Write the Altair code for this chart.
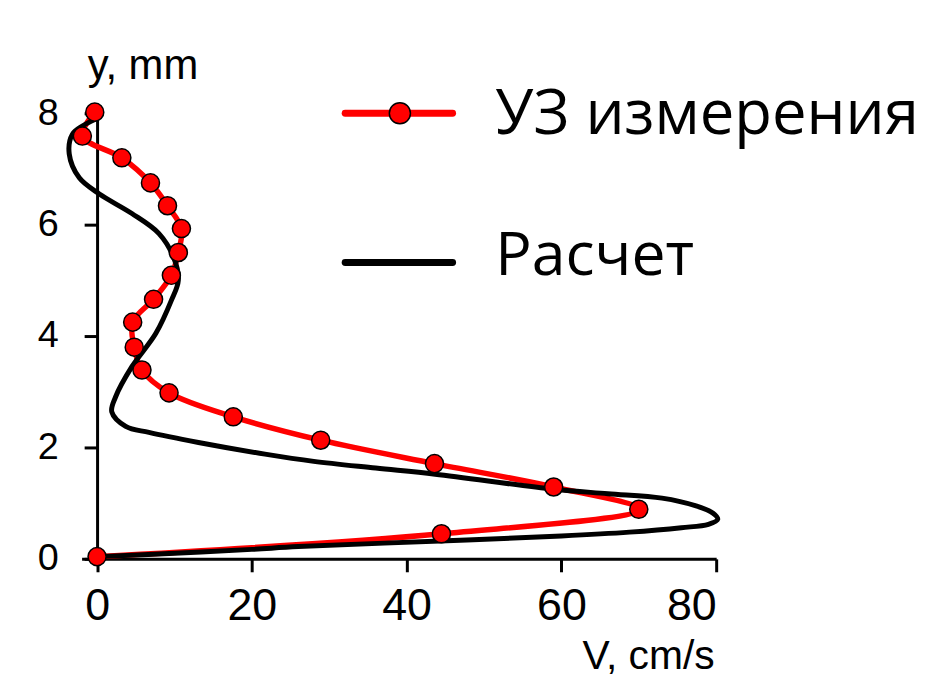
import altair as alt
import pandas as pd

# Measured (ultrasound) profile: V (cm/s), y (mm)
meas_v = [0.0, 44.5, 70.0, 59.0, 43.6, 28.9, 17.6, 9.3, 5.8, 4.8, 4.6, 7.3, 9.6, 10.5, 10.9, 9.1, 6.9, 3.2, -1.9, -0.3]
meas_y = [0.04, 0.45, 0.89, 1.29, 1.71, 2.13, 2.55, 2.98, 3.39, 3.80, 4.25, 4.66, 5.09, 5.50, 5.93, 6.34, 6.75, 7.20, 7.59, 8.02]

# Calculated profile
calc_v = [0.0, 10.0, 20.0, 26.0, 44.3, 60.0, 68.8, 75.5, 79.0, 80.2, 79.6, 77.4, 73.0, 66.0, 59.0, 43.7,
          36.0, 28.0, 21.7, 13.1, 6.7, 3.7, 1.9, 2.4, 4.5, 7.6, 9.6, 10.5, 9.9, 8.0, 4.5, 0.3, -2.3, -3.6, -3.2, -1.9, -0.1]
calc_y = [0.04, 0.10, 0.17, 0.22, 0.32, 0.41, 0.48, 0.56, 0.62, 0.71, 0.82, 0.95, 1.09, 1.17, 1.25, 1.52,
          1.63, 1.75, 1.88, 2.09, 2.27, 2.38, 2.64, 2.91, 3.45, 4.05, 4.64, 5.00, 5.41, 5.84, 6.20, 6.55, 6.84, 7.27, 7.62, 7.77, 7.90]

x_ticks = [0, 20, 40, 60, 80]
y_ticks = [0, 2, 4, 6, 8]
legend_labels = ["УЗ измерения", "Расчет"]

W, H = 638, 448
X_MIN, X_MAX = -2, 80
px_per_v = W / (X_MAX - X_MIN)

meas = pd.DataFrame({"V": meas_v, "y": meas_y, "i": list(range(len(meas_v)))})
calc = pd.DataFrame({"V": calc_v, "y": calc_y, "i": list(range(len(calc_v)))})

AXIS_FONT = "Liberation Sans"
LEG_FONT = "Open Sans"

xscale = alt.Scale(domain=[X_MIN, X_MAX], nice=False, zero=False)
yscale = alt.Scale(domain=[0, 8], nice=False, zero=False)

xaxis = alt.Axis(
    values=x_ticks, format="d", title="V, cm/s", grid=False,
    domainColor="black", domainWidth=3, tickColor="black", tickWidth=3, tickSize=13,
    labelFont=AXIS_FONT, labelFontSize=45, labelColor="black", labelPadding=12,
    titleFont=AXIS_FONT, titleFontSize=41, titleFontWeight="normal", titleColor="black",
    titleAlign="right", titleX=636, titleY=110, titleBaseline="alphabetic",
)
yaxis = alt.Axis(
    values=y_ticks, format="d", title="y, mm", grid=False, offset=-(0 - X_MIN) * px_per_v,
    domainColor="black", domainWidth=3, tickColor="black", tickWidth=3, tickSize=13,
    labelFont=AXIS_FONT, labelFontSize=38, labelColor="black", labelPadding=26,
    titleFont=AXIS_FONT, titleFontSize=42, titleFontWeight="normal", titleColor="black",
    titleAngle=0, titleAlign="left", titleX=-10, titleY=-35, titleBaseline="alphabetic",
)

red_line = alt.Chart(meas).mark_line(
    color="#ff0000", strokeWidth=5.5, interpolate="catmull-rom"
).encode(
    x=alt.X("V:Q", scale=xscale, axis=xaxis),
    y=alt.Y("y:Q", scale=yscale, axis=yaxis),
    order="i:O",
)

black_line = alt.Chart(calc).mark_line(
    color="black", strokeWidth=5, interpolate="catmull-rom"
).encode(
    x=alt.X("V:Q", scale=xscale),
    y=alt.Y("y:Q", scale=yscale),
    order="i:O",
)

red_points = alt.Chart(meas).mark_point(
    filled=True, fill="#ff0000", stroke="black", strokeWidth=1.5, size=330, opacity=1
).encode(
    x=alt.X("V:Q", scale=xscale),
    y=alt.Y("y:Q", scale=yscale),
)

# Manual legend
leg1 = pd.DataFrame({"label": [legend_labels[0]]})
leg2 = pd.DataFrame({"label": [legend_labels[1]]})

leg_red = alt.Chart(leg1).mark_rule(color="#ff0000", strokeWidth=7, strokeCap="round").encode(
    x=alt.value(265), x2=alt.value(373), y=alt.value(0)
)
leg_pt = alt.Chart(leg1).mark_point(
    filled=True, fill="#ff0000", stroke="black", strokeWidth=1.5, size=450, opacity=1
).encode(x=alt.value(320), y=alt.value(0))
leg_black = alt.Chart(leg2).mark_rule(color="black", strokeWidth=7, strokeCap="round").encode(
    x=alt.value(265), x2=alt.value(373), y=alt.value(150)
)
leg_t1 = alt.Chart(leg1).mark_text(
    font=LEG_FONT, fontSize=62, align="left", baseline="alphabetic", color="black"
).encode(x=alt.value(416), y=alt.value(21), text="label:N")
leg_t2 = alt.Chart(leg2).mark_text(
    font=LEG_FONT, fontSize=61, align="left", baseline="alphabetic", color="black"
).encode(x=alt.value(416), y=alt.value(163), text="label:N")

chart = alt.layer(
    red_line, black_line, red_points, leg_red, leg_black, leg_pt, leg_t1, leg_t2
).properties(
    width=W, height=H, autosize="none",
    padding={"left": 74, "top": 104, "right": 218, "bottom": 124},
    background="white",
).configure_view(stroke=None)

chart.save("out.html", embed_options={"renderer": "svg", "actions": False})
